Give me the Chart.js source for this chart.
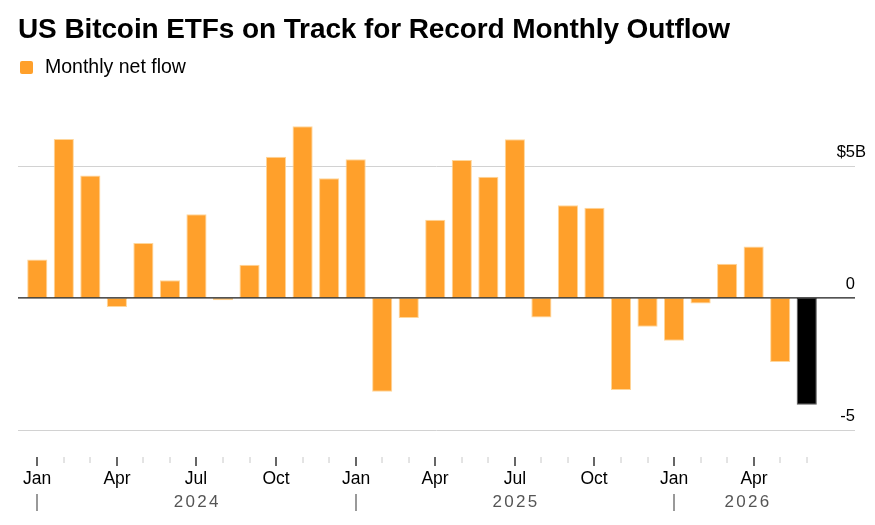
<!DOCTYPE html>
<html lang="en">
<head>
<meta charset="UTF-8">
<title>US Bitcoin ETFs on Track for Record Monthly Outflow</title>
<script src="https://cdn.jsdelivr.net/npm/chart.js"></script>
<style>
  html, body { margin: 0; padding: 0; background: #fff; }
  #wrap { position: relative; width: 875px; height: 525px; font-family: "Liberation Sans", Arial, sans-serif; }
  #title { position: absolute; left: 18px; top: 13px; font-size: 28px; font-weight: bold; color: #000; letter-spacing: -0.1px; white-space: nowrap; line-height: 32px; }
  #legend { position: absolute; left: 20px; top: 54px; font-size: 19.5px; color: #000; white-space: nowrap; line-height: 24px; }
  #legend .sw { display: inline-block; width: 13px; height: 13px; background: #ffa02b; border-radius: 2px; vertical-align: -1px; margin-right: 12px; }
  #chart { position: absolute; left: 0; top: 0; }
</style>
</head>
<body>
<div id="wrap">
  <canvas id="chart" width="875" height="525"></canvas>
  <div id="title">US Bitcoin ETFs on Track for Record Monthly Outflow</div>
  <div id="legend"><span class="sw"></span>Monthly net flow</div>
</div>
<script>
// monthly net flow, $ billions, Jan 2024 - Jun 2026
const months = ['Jan','Feb','Mar','Apr','May','Jun','Jul','Aug','Sep','Oct','Nov','Dec',
                'Jan','Feb','Mar','Apr','May','Jun','Jul','Aug','Sep','Oct','Nov','Dec',
                'Jan','Feb','Mar','Apr','May','Jun'];
const years = [2024,2024,2024,2024,2024,2024,2024,2024,2024,2024,2024,2024,
               2025,2025,2025,2025,2025,2025,2025,2025,2025,2025,2025,2025,
               2026,2026,2026,2026,2026,2026];
const flows = [1.45, 6.02, 4.63, -0.34, 2.08, 0.67, 3.17, -0.09, 1.26, 5.34, 6.50, 4.53,
               5.25, -3.55, -0.76, 2.96, 5.22, 4.59, 6.01, -0.74, 3.51, 3.41, -3.49, -1.09,
               -1.62, -0.21, 1.29, 1.95, -2.43, -4.04];
const shownMonths = ['Jan','Apr','Jul','Oct'];
const yTicks = [5, 0, -5];
const yTickLabels = ['$5', '0', '-5'];

const labels = months.map((m, i) => m + ' ' + years[i]);
const lastIdx = flows.length - 1;

const font = '"Liberation Sans", Arial, sans-serif';

const axisPlugin = {
  id: 'axisPlugin',
  beforeDatasetsDraw(chart) {
    const ctx = chart.ctx, y = chart.scales.y;
    ctx.save();
    ctx.strokeStyle = '#d2d2d2';
    ctx.lineWidth = 1;
    yTicks.forEach(v => {
      if (v === 0) return;
      const py = Math.round(y.getPixelForValue(v)) + 0.5;
      ctx.beginPath(); ctx.moveTo(18, py); ctx.lineTo(855, py); ctx.stroke();
    });
    ctx.restore();
  },
  afterDatasetsDraw(chart) {
    const ctx = chart.ctx, x = chart.scales.x, y = chart.scales.y;
    ctx.save();
    // zero line
    const zy = y.getPixelForValue(0);
    ctx.strokeStyle = '#1a1a1a';
    ctx.lineWidth = 1.3;
    ctx.beginPath(); ctx.moveTo(18, zy); ctx.lineTo(855, zy); ctx.stroke();

    // y labels, above their lines
    ctx.font = '16.5px ' + font;
    ctx.fillStyle = '#000';
    ctx.textBaseline = 'alphabetic';
    yTicks.forEach((v, i) => {
      const py = y.getPixelForValue(v) - 9;
      ctx.textAlign = 'right';
      ctx.fillText(yTickLabels[i], 855, py);
      if (v === 5) { ctx.textAlign = 'left'; ctx.fillText('B', 855, py); }
    });

    // month ticks and labels
    ctx.textAlign = 'center';
    ctx.textBaseline = 'middle';
    ctx.font = '17.5px ' + font;
    months.forEach((m, i) => {
      const px = Math.round(x.getPixelForValue(i));
      const major = shownMonths.includes(m);
      ctx.strokeStyle = major ? '#333' : '#c8c8c8';
      ctx.lineWidth = major ? 1.5 : 1;
      ctx.beginPath(); ctx.moveTo(px, 457); ctx.lineTo(px, major ? 466 : 463); ctx.stroke();
      if (major) { ctx.fillStyle = '#000'; ctx.fillText(m, px, 479.5); }
    });

    // year separators and labels
    const starts = [];
    years.forEach((yr, i) => { if (i === 0 || years[i - 1] !== yr) starts.push(i); });
    ctx.font = '17px ' + font;
    ctx.letterSpacing = '2.3px';
    starts.forEach((s, k) => {
      const px = Math.round(x.getPixelForValue(s));
      ctx.strokeStyle = '#777';
      ctx.lineWidth = 1.5;
      ctx.beginPath(); ctx.moveTo(px, 494); ctx.lineTo(px, 511); ctx.stroke();
      const endPx = k + 1 < starts.length ? x.getPixelForValue(starts[k + 1]) : chart.chartArea.right;
      ctx.fillStyle = '#555';
      ctx.fillText(String(years[s]), (px + endPx) / 2 + 1, 502);
    });
    ctx.restore();
  }
};

new Chart(document.getElementById('chart'), {
  type: 'bar',
  data: {
    labels: labels,
    datasets: [{
      label: 'Monthly net flow',
      data: flows,
      backgroundColor: ctx => ctx.dataIndex === lastIdx ? '#000000' : '#ffa02b',
      borderColor: ctx => ctx.dataIndex === lastIdx ? '#555555' : '#ffd69a',
      borderWidth: 1,
      borderSkipped: false,
      categoryPercentage: 1,
      barPercentage: 0.76
    }]
  },
  options: {
    responsive: false,
    animation: false,
    layout: { padding: { left: 24, right: 55, top: 113, bottom: 95 } },
    plugins: { legend: { display: false }, title: { display: false }, tooltip: { enabled: false } },
    scales: {
      x: { display: false, offset: true },
      y: { display: false, min: -5, max: 7 }
    }
  },
  plugins: [axisPlugin]
});
</script>
</body>
</html>
